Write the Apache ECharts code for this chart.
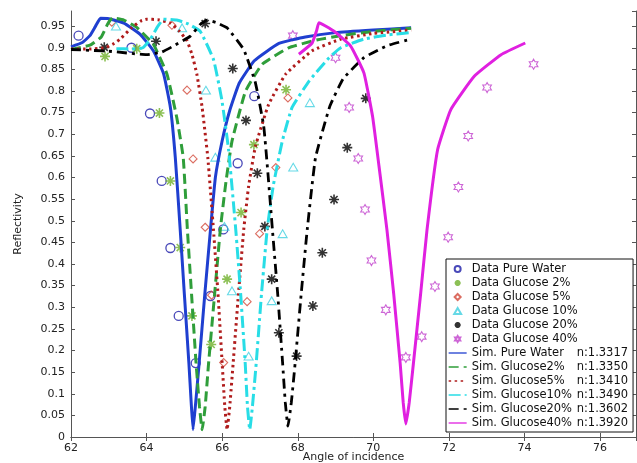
<!DOCTYPE html>
<html>
<head>
<meta charset="utf-8">
<script src="https://cdn.jsdelivr.net/npm/echarts@6/dist/echarts.min.js"></script>
<style>
  html, body { margin: 0; padding: 0; background: #fff; }
  #chart { width: 637px; height: 463px; }
</style>
</head>
<body>
<div id="chart"></div>
<script>
// ---- measured reflectivity (angle in degrees, reflectivity 0..1) ----
const waterAngle = [62.2, 63.6, 64.09, 64.4, 64.63, 64.85, 65.3, 65.69, 66.03, 66.41, 66.85];
const waterRefl  = [0.928, 0.900, 0.748, 0.592, 0.437, 0.280, 0.171, 0.326, 0.480, 0.633, 0.788];

const g2Angle = [62.9, 63.74, 64.34, 64.63, 64.89, 65.2, 65.71, 66.13, 66.5, 66.84, 67.69];
const g2Refl  = [0.880, 0.898, 0.749, 0.592, 0.438, 0.280, 0.214, 0.365, 0.519, 0.676, 0.803];

const g5Angle = [63.08, 64.67, 65.07, 65.23, 65.55, 65.72, 66.04, 66.66, 66.99, 67.42, 67.74];
const g5Refl  = [0.959, 0.952, 0.802, 0.643, 0.485, 0.328, 0.172, 0.313, 0.470, 0.623, 0.784];

const g10Angle = [63.19, 64.94, 65.57, 65.82, 66.06, 66.26, 66.7, 67.31, 67.6, 67.88, 68.32];
const g10Refl  = [0.950, 0.946, 0.802, 0.647, 0.487, 0.338, 0.187, 0.315, 0.470, 0.624, 0.773];

const g20Angle = [62.88, 64.25, 65.55, 66.28, 66.63, 66.93, 67.13, 67.31, 67.5, 67.97, 68.4, 68.65, 68.96, 69.31, 69.8];
const g20Refl  = [0.901, 0.915, 0.956, 0.852, 0.732, 0.610, 0.487, 0.365, 0.241, 0.187, 0.303, 0.426, 0.549, 0.669, 0.783];

const g40Angle = [67.87, 69.0, 69.36, 69.6, 69.78, 69.95, 70.33, 70.86, 71.28, 71.63, 71.98, 72.25, 72.51, 73.01, 74.24];
const g40Refl  = [0.928, 0.877, 0.762, 0.644, 0.526, 0.408, 0.294, 0.184, 0.232, 0.348, 0.462, 0.578, 0.696, 0.808, 0.862];

// ---- simulated reflectivity curves ----
const simWaterAngle = [62.0, 62.3, 62.5, 62.65, 62.78, 63.0, 63.4, 63.83, 64.18, 64.45, 64.63, 64.76, 64.89, 65.0, 65.12, 65.18, 65.23, 65.3, 65.39, 65.54, 65.69, 65.82, 66.0, 66.2, 66.45, 66.85, 67.5, 68.2, 69.0, 70.0, 71.0];
const simWaterRefl  = [0.902, 0.912, 0.928, 0.950, 0.968, 0.967, 0.957, 0.931, 0.893, 0.840, 0.762, 0.646, 0.479, 0.330, 0.170, 0.080, 0.017, 0.080, 0.170, 0.330, 0.479, 0.600, 0.685, 0.755, 0.818, 0.870, 0.910, 0.925, 0.935, 0.941, 0.946];

const simG2Angle = [62.0, 62.5, 62.8, 62.97, 63.1, 63.4, 63.74, 64.18, 64.54, 64.8, 64.97, 65.08, 65.19, 65.31, 65.4, 65.47, 65.55, 65.64, 65.8, 65.95, 66.1, 66.26, 66.62, 67.06, 67.76, 68.5, 69.14, 70.0, 71.0];
const simG2Refl  = [0.896, 0.906, 0.925, 0.955, 0.969, 0.964, 0.947, 0.908, 0.839, 0.738, 0.646, 0.479, 0.330, 0.170, 0.070, 0.017, 0.070, 0.170, 0.330, 0.479, 0.590, 0.684, 0.800, 0.862, 0.900, 0.918, 0.928, 0.938, 0.945];

const simG5Angle = [62.0, 62.5, 62.9, 63.1, 63.3, 63.6, 63.85, 64.0, 64.3, 64.63, 64.85, 65.07, 65.2, 65.33, 65.47, 65.62, 65.77, 65.89, 66.0, 66.07, 66.13, 66.2, 66.29, 66.43, 66.57, 66.7, 66.88, 67.23, 67.68, 68.38, 69.14, 70.0, 71.0];
const simG5Refl  = [0.897, 0.897, 0.900, 0.908, 0.920, 0.946, 0.962, 0.966, 0.965, 0.957, 0.940, 0.916, 0.885, 0.839, 0.762, 0.646, 0.479, 0.330, 0.170, 0.070, 0.017, 0.070, 0.170, 0.330, 0.479, 0.580, 0.672, 0.769, 0.839, 0.893, 0.920, 0.933, 0.941];

const simG10Angle = [63.2, 63.6, 63.9, 64.1, 64.3, 64.45, 64.8, 65.1, 65.42, 65.77, 65.99, 66.17, 66.36, 66.49, 66.61, 66.67, 66.73, 66.8, 66.9, 67.04, 67.19, 67.35, 67.59, 67.85, 68.3, 68.83, 69.14, 69.75, 70.4, 71.0];
const simG10Refl  = [0.898, 0.897, 0.900, 0.920, 0.950, 0.966, 0.964, 0.955, 0.938, 0.873, 0.780, 0.664, 0.479, 0.330, 0.170, 0.070, 0.017, 0.070, 0.170, 0.330, 0.479, 0.580, 0.684, 0.762, 0.823, 0.877, 0.900, 0.920, 0.930, 0.935];

const simG20Angle = [62.0, 63.0, 64.0, 64.4, 64.71, 65.16, 65.42, 65.6, 65.85, 66.13, 66.57, 66.88, 67.1, 67.22, 67.33, 67.47, 67.6, 67.67, 67.74, 67.83, 67.93, 68.09, 68.25, 68.47, 68.85, 69.2, 69.75, 70.37, 71.0];
const simG20Refl  = [0.896, 0.892, 0.884, 0.890, 0.904, 0.927, 0.954, 0.964, 0.958, 0.946, 0.896, 0.819, 0.718, 0.600, 0.479, 0.330, 0.170, 0.080, 0.025, 0.080, 0.170, 0.330, 0.479, 0.646, 0.765, 0.828, 0.877, 0.905, 0.920];

const simG40Angle = [68.03, 68.38, 68.5, 68.56, 68.96, 69.4, 69.75, 69.98, 70.15, 70.36, 70.54, 70.71, 70.79, 70.86, 70.95, 71.06, 71.25, 71.42, 71.7, 72.05, 72.67, 73.38, 74.02];
const simG40Refl  = [0.885, 0.911, 0.940, 0.958, 0.938, 0.904, 0.842, 0.741, 0.626, 0.479, 0.330, 0.170, 0.080, 0.030, 0.080, 0.170, 0.330, 0.479, 0.664, 0.757, 0.834, 0.884, 0.911];

// ---- names and refractive indices ----
const dataNames = ['Data Pure Water', 'Data Glucose 2%', 'Data Glucose 5%', 'Data Glucose 10%', 'Data Glucose 20%', 'Data Glucose 40%'];
const simNames  = ['Sim. Pure Water', 'Sim. Glucose2%', 'Sim. Glucose5%', 'Sim. Glucose10%', 'Sim. Glucose20%', 'Sim. Glucose40%'];
const simIndex  = ['1.3317', '1.3350', '1.3410', '1.3490', '1.3602', '1.3920'];

const FONT = 'DejaVu Sans';
const pairs = (a, r) => a.map((x, i) => [x, r[i]]);

// open marker outlines (paths keep their aspect in the legend too)
const CIRCLE   = 'path://M0,-10A10,10,0,1,1,0,10A10,10,0,1,1,0,-10Z';
const DIAMOND  = 'path://M0,-10L10,0L0,10L-10,0Z';
const TRIANGLE = 'path://M0,-10L8.66,5L-8.66,5Z';
const ASTERISK = 'path://M0,-10L0,10M-10,0L10,0M-7.07,-7.07L7.07,7.07M-7.07,7.07L7.07,-7.07';
const HEXAGRAM = 'path://M0,-10L2.887,-5L8.66,-5L5.774,0L8.66,5L2.887,5L0,10L-2.887,5L-8.66,5L-5.774,0L-8.66,-5L-2.887,-5Z';

const measured = [
  { a: waterAngle, r: waterRefl, symbol: CIRCLE,   size: 9,  color: '#1c1ca8', bw: 1.3 },
  { a: g2Angle,    r: g2Refl,    symbol: ASTERISK, size: 10, color: '#6fb02a', bw: 1.6 },
  { a: g5Angle,    r: g5Refl,    symbol: DIAMOND,  size: 8,  color: '#d2483a', bw: 1.1 },
  { a: g10Angle,   r: g10Refl,   symbol: TRIANGLE, size: 9,  color: '#3fd0e0', bw: 1.1 },
  { a: g20Angle,   r: g20Refl,   symbol: ASTERISK, size: 10, color: '#000000', bw: 1.6 },
  { a: g40Angle,   r: g40Refl,   symbol: HEXAGRAM, size: 10, color: '#c040cc', bw: 1.1 }
];

const simulated = [
  { a: simWaterAngle, r: simWaterRefl, color: '#1f3fd0', width: 3.0, dash: 'solid' },
  { a: simG2Angle,    r: simG2Refl,    color: '#2f9e3a', width: 3.0, dash: [10, 5] },
  { a: simG5Angle,    r: simG5Refl,    color: '#b01c1c', width: 3.0, dash: [2.5, 3.5] },
  { a: simG10Angle,   r: simG10Refl,   color: '#28dde6', width: 3.0, dash: [12, 4, 3, 4] },
  { a: simG20Angle,   r: simG20Refl,   color: '#000000', width: 2.8, dash: [10, 5, 3, 5] },
  { a: simG40Angle,   r: simG40Refl,   color: '#e020e0', width: 3.0, dash: 'solid' }
];

const series = [];
measured.forEach((m, i) => {
  series.push({
    type: 'scatter',
    name: dataNames[i],
    data: pairs(m.a, m.r),
    symbol: m.symbol,
    symbolSize: m.size,
    symbolKeepAspect: true,
    itemStyle: { color: 'rgba(255,255,255,0)', borderColor: m.color, borderWidth: m.bw },
    emphasis: { disabled: true },
    z: 2
  });
});
simulated.forEach((s, i) => {
  series.push({
    type: 'line',
    name: simNames[i],
    data: pairs(s.a, s.r),
    symbol: 'none',
    showSymbol: false,
    smooth: 0.12,
    lineStyle: { color: s.color, width: s.width, type: s.dash, cap: 'butt' },
    // no point markers on the curves (also keeps the legend entry a plain line)
    itemStyle: { color: s.color, opacity: 0 },
    emphasis: { disabled: true },
    z: 3
  });
});

const axisColor = '#555';
const labelStyle = { fontFamily: FONT, fontSize: 11, color: '#222' };

const chart = echarts.init(document.getElementById('chart'), null, { renderer: 'canvas' });
chart.setOption({
  animation: false,
  backgroundColor: '#fff',
  grid: { left: 71, right: 1, top: 11, bottom: 26, containLabel: false, outerBoundsMode: 'none' },
  xAxis: [
    {
      type: 'value', min: 62, max: 76.95, interval: 2, position: 'bottom',
      name: 'Angle of incidence', nameLocation: 'middle', nameGap: 15, nameMoveOverlap: false,
      nameTextStyle: { fontFamily: FONT, fontSize: 11, color: '#222' },
      axisLine: { lineStyle: { color: axisColor, width: 1 } },
      axisTick: { inside: true, length: 4, lineStyle: { color: axisColor } },
      axisLabel: Object.assign({ margin: 6, showMaxLabel: false }, labelStyle),
      splitLine: { show: false }
    },
    {
      type: 'value', min: 62, max: 76.95, interval: 2, position: 'top',
      axisLine: { lineStyle: { color: axisColor, width: 1 } },
      axisTick: { inside: true, length: 4, lineStyle: { color: axisColor } },
      axisLabel: { show: false },
      splitLine: { show: false }
    }
  ],
  yAxis: [
    {
      type: 'value', min: 0, max: 0.985, interval: 0.05, position: 'left',
      name: 'Reflectivity', nameLocation: 'middle', nameGap: 47, nameMoveOverlap: false,
      nameTextStyle: { fontFamily: FONT, fontSize: 11, color: '#222' },
      axisLine: { show: true, lineStyle: { color: axisColor, width: 1 } },
      axisTick: { show: true, inside: true, length: 4, lineStyle: { color: axisColor } },
      axisLabel: Object.assign({ margin: 6, showMaxLabel: false }, labelStyle),
      splitLine: { show: false }
    },
    {
      type: 'value', min: 0, max: 0.985, interval: 0.05, position: 'right',
      axisLine: { show: true, lineStyle: { color: axisColor, width: 1 } },
      axisTick: { show: true, inside: true, length: 4, lineStyle: { color: axisColor } },
      axisLabel: { show: false },
      splitLine: { show: false }
    }
  ],
  legend: {
    orient: 'vertical',
    left: 446, top: 259,
    itemWidth: 18, itemHeight: 6, itemGap: 0,
    padding: [3, 5, 2, 2],
    borderColor: '#111', borderWidth: 1,
    backgroundColor: '#fff',
    selectedMode: false,
    lineStyle: { width: 1.3 },
    data: dataNames.concat(simNames),
    formatter: function (name) {
      const k = simNames.indexOf(name);
      if (k < 0) return name;
      return '{a|' + name + '}{b|n:' + simIndex[k] + '}';
    },
    textStyle: {
      fontFamily: FONT, fontSize: 11.5, color: '#111', lineHeight: 14,
      rich: {
        a: { fontFamily: FONT, fontSize: 11.5, color: '#111', width: 105, lineHeight: 14 },
        b: { fontFamily: FONT, fontSize: 11.5, color: '#111', lineHeight: 14 }
      }
    }
  },
  series: series
});
</script>
</body>
</html>
